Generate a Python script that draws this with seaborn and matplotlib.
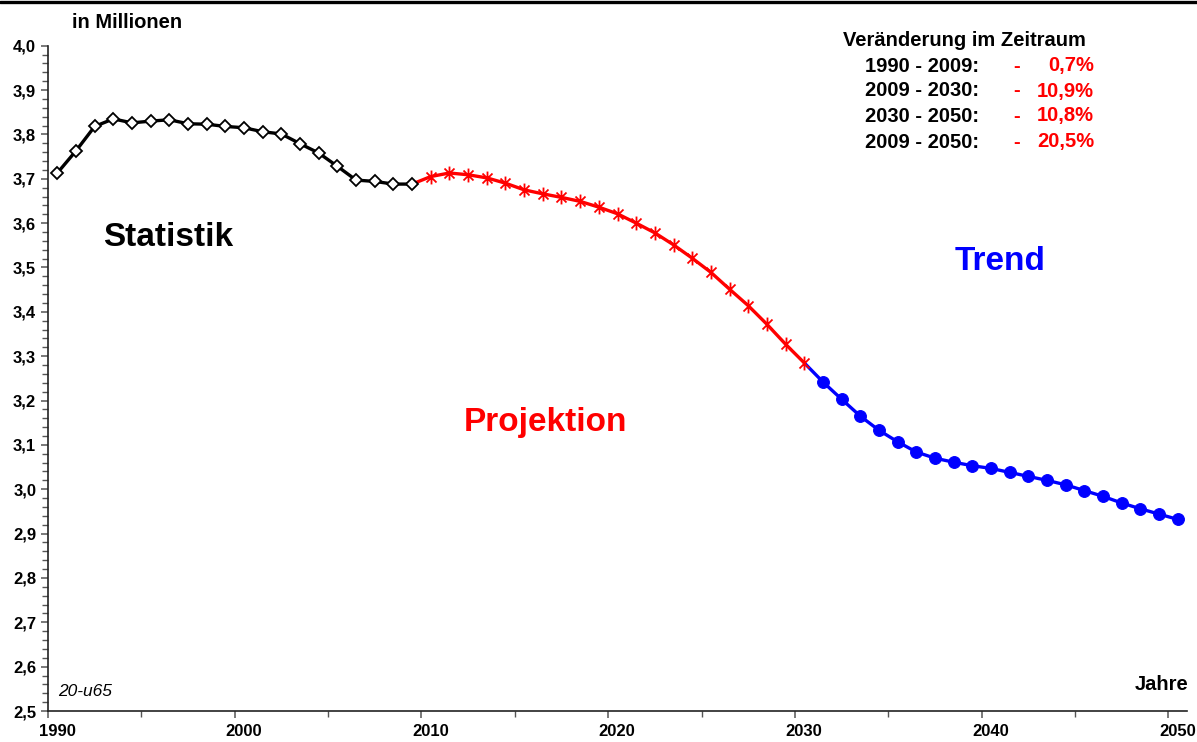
import numpy as np
import matplotlib
matplotlib.use("Agg")
import matplotlib.pyplot as plt
import seaborn as sns
from matplotlib.path import Path
from matplotlib.lines import Line2D
from matplotlib.ticker import FuncFormatter, MultipleLocator
from matplotlib.transforms import ScaledTranslation

# === Data (population aged 20 to under 65, in millions) === #
years_stat = list(range(1990, 2010))
values_stat = [3.713, 3.763, 3.818, 3.835, 3.826, 3.830, 3.833, 3.824, 3.823, 3.818,
               3.815, 3.806, 3.801, 3.779, 3.758, 3.728, 3.697, 3.694, 3.688, 3.688]

years_proj = list(range(2010, 2031))
values_proj = [3.705, 3.713, 3.709, 3.702, 3.690, 3.675, 3.666, 3.658, 3.649, 3.636,
               3.621, 3.600, 3.578, 3.551, 3.521, 3.489, 3.451, 3.414, 3.372, 3.327,
               3.285]

years_trend = list(range(2031, 2051))
values_trend = [3.242, 3.203, 3.165, 3.133, 3.107, 3.084, 3.070, 3.061, 3.053, 3.047,
                3.038, 3.029, 3.020, 3.010, 2.997, 2.984, 2.969, 2.956, 2.944, 2.932]

change_periods = ["1990 - 2009:", "2009 - 2030:", "2030 - 2050:", "2009 - 2050:"]
change_values = ["0,7%", "10,9%", "10,8%", "20,5%"]

# === Style === #
sns.set_style("ticks")
plt.rcParams["font.family"] = ["Liberation Sans", "DejaVu Sans"]
plt.rcParams["text.color"] = "black"

W, H = 1197, 742
fig = plt.figure(figsize=(W / 100, H / 100), dpi=100)
ax = fig.add_axes([48 / W, 1 - 711 / H, (1187 - 48) / W, (711 - 45.7) / H])

# points sit in the middle of each year (category axis)
x_stat = np.array(years_stat) + 0.5
x_proj = np.array([years_stat[-1]] + years_proj) + 0.5
y_proj = [values_stat[-1]] + values_proj
x_trend = np.array([years_proj[-1]] + years_trend) + 0.5
y_trend = [values_proj[-1]] + values_trend

star = Path([(0, -1), (0, 1), (-0.72, -0.72), (0.72, 0.72), (-0.72, 0.72), (0.72, -0.72)],
            [Path.MOVETO, Path.LINETO, Path.MOVETO, Path.LINETO, Path.MOVETO, Path.LINETO])

sns.lineplot(x=x_trend, y=y_trend, ax=ax, color="#0000ff", linewidth=2.4,
             marker="o", markersize=8.5, markerfacecolor="#0000ff", markeredgecolor="#0000ff",
             markevery=list(range(1, len(y_trend))), zorder=3)
sns.lineplot(x=x_proj, y=y_proj, ax=ax, color="#ff0000", linewidth=2.4,
             marker=star, markersize=10, markeredgecolor="#ff0000", markeredgewidth=1.3,
             markevery=list(range(1, len(y_proj))), zorder=4)
sns.lineplot(x=x_stat, y=values_stat, ax=ax, color="black", linewidth=2.4,
             marker="D", markersize=6.5, markerfacecolor="white", markeredgecolor="black",
             markeredgewidth=1.3, zorder=5)

# === Axes === #
ax.set_xlim(1990, 2051)
ax.set_ylim(2.5, 4.0)
ax.xaxis.set_major_locator(MultipleLocator(10))
ax.xaxis.set_minor_locator(MultipleLocator(5))
ax.yaxis.set_major_locator(MultipleLocator(0.1))
ax.yaxis.set_minor_locator(MultipleLocator(0.02))
ax.yaxis.set_major_formatter(FuncFormatter(lambda v, p: f"{v:.1f}".replace(".", ",")))
ax.xaxis.set_major_formatter(FuncFormatter(lambda v, p: f"{int(round(v))}"))
ax.set_xlabel("")
ax.set_ylabel("")
sns.despine(ax=ax)
for side in ["left", "bottom"]:
    ax.spines[side].set_color("#222222")
    ax.spines[side].set_linewidth(1.2)
ax.tick_params(axis="both", which="major", labelsize=12, colors="#555555", labelcolor="black",
               length=5, width=1.1)
ax.tick_params(axis="both", which="minor", colors="#555555", length=4, width=1.0)
ax.tick_params(axis="x", which="major", pad=4)
for lab in ax.get_xticklabels() + ax.get_yticklabels():
    lab.set_fontweight("bold")
shift = ScaledTranslation(9 / 100, 0, fig.dpi_scale_trans)
for lab in ax.get_xticklabels():
    lab.set_transform(lab.get_transform() + shift)

# === Texts === #
def px(x, y):
    return x / W, 1 - y / H

fig.text(*px(72, 22), "in Millionen", fontsize=14.5, fontweight="bold", ha="left", va="center")
fig.text(*px(1188, 685), "Jahre", fontsize=14.5, fontweight="bold", ha="right", va="center")
fig.text(*px(58, 692), "20-u65", fontsize=12.5, fontstyle="italic", ha="left", va="center")
fig.text(*px(168, 237), "Statistik", fontsize=24, fontweight="bold", color="black",
         ha="center", va="center")
fig.text(*px(545, 422), "Projektion", fontsize=24, fontweight="bold", color="#ff0000",
         ha="center", va="center")
fig.text(*px(1000, 261), "Trend", fontsize=24, fontweight="bold", color="#0000ff",
         ha="center", va="center")

fig.text(*px(843, 40), "Veränderung im Zeitraum", fontsize=14.5, fontweight="bold",
         ha="left", va="center")
row_y = [66, 91, 116, 142]
for period, val, yy in zip(change_periods, change_values, row_y):
    fig.text(*px(865, yy), period, fontsize=14.5, fontweight="bold", ha="left", va="center")
    fig.text(*px(1017, yy), "-", fontsize=14.5, fontweight="bold", color="#ff0000",
             ha="center", va="center")
    fig.text(*px(1094, yy), val, fontsize=14.5, fontweight="bold", color="#ff0000",
             ha="right", va="center")

# top border line
fig.add_artist(Line2D([0, 1], [1 - 1.5 / H, 1 - 1.5 / H], transform=fig.transFigure,
                      color="black", linewidth=2.4))

fig.savefig("out.png", dpi=100)
plt.close(fig)
